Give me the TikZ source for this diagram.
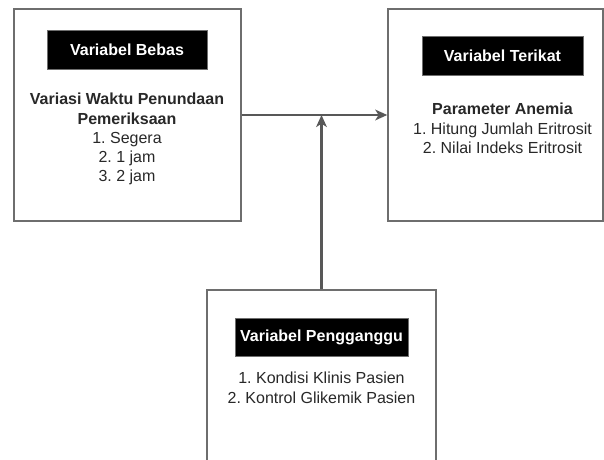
\documentclass[tikz,border=0pt]{standalone}
\usepackage{fontspec}
\setmainfont{Liberation Sans}
\usetikzlibrary{positioning, arrows.meta}
\definecolor{varframe}{RGB}{110, 110, 110}
\definecolor{vartext}{RGB}{40, 40, 40}
\frenchspacing

\begin{document}
\begin{tikzpicture}[
    x=0.75pt, y=-0.75pt,
    varbox/.style={rectangle, draw=varframe, line width=1.1pt, fill=white,
                   inner sep=0pt},
    vartitle/.style={rectangle, fill=black, draw=varframe, line width=0.4pt,
                     text=white, font=\bfseries\fontsize{12}{14}\selectfont,
                     inner sep=0pt},
    varbody/.style={align=center, text=vartext,
                    font=\fontsize{12}{14.4}\selectfont, inner sep=0pt},
    varline/.style={-{Stealth[length=9pt, width=8pt, inset=2.5pt]},
                    line width=1.6pt, draw=varframe!80!black, fill=varframe!80!black}
  ]
    \clip (0,0) rectangle (604,460);
    \fill[white] (0,0) rectangle (604,460);

    % boxes
    \node[varbox, minimum width=170.25pt, minimum height=159pt] (bebas)   at (127.5,115) {};
    \node[varbox, minimum width=161.25pt, minimum height=159pt] (terikat) at (495.5,115) {};
    \node[varbox, minimum width=171.75pt, minimum height=187.5pt] (ganggu) at (321.5,415) {};

    % titles
    \node[vartitle, minimum width=120pt, minimum height=29.25pt] (tbebas)   at (127,50)  {Variabel Bebas};
    \node[vartitle, minimum width=120.75pt, minimum height=29.25pt] (tterikat) at (502.5,56) {Variabel Terikat};
    \node[vartitle, minimum width=129.75pt, minimum height=28.5pt] (tganggu)  at (321.5,337) {Variabel Pengganggu};

    % contents
    \node[varbody, anchor=north] (bbebas) at (127,93)
      {\textbf{Variasi Waktu Penundaan}\\\textbf{Pemeriksaan}\\1. Segera\\2. 1 jam\\3. 2 jam};
    \node[varbody, anchor=north] (bterikat) at (502.5,103)
      {\textbf{Parameter Anemia}\\1. Hitung Jumlah Eritrosit\\2. Nilai Indeks Eritrosit};
    \node[varbody, anchor=north] (bganggu) at (321.5,372)
      {1. Kondisi Klinis Pasien\\2. Kontrol Glikemik Pasien};

    \draw[varline] (bebas) -- (terikat);
    \draw[varline] (ganggu) -- (ganggu |- bebas.east);
  \end{tikzpicture}
\end{document}
